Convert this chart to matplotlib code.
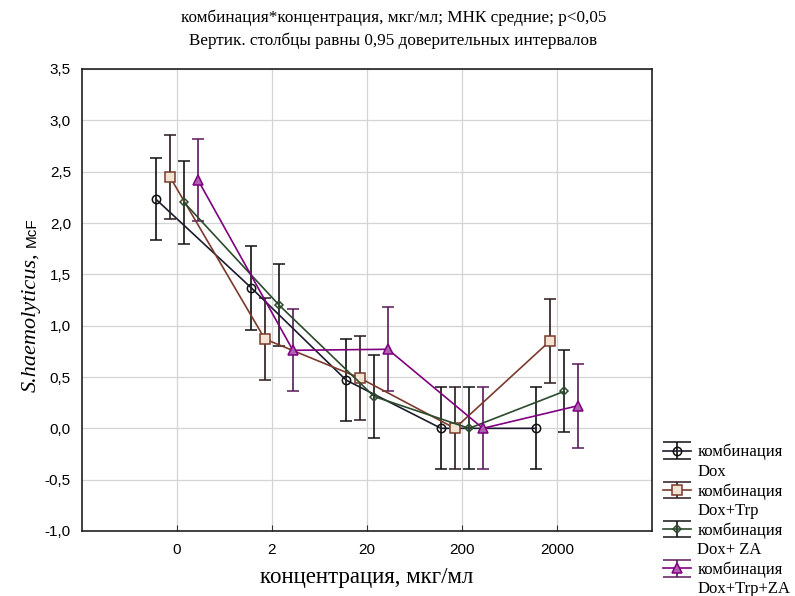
import numpy as np
import matplotlib
matplotlib.use('Agg')
from matplotlib import pyplot as plt

# categories on the x axis
conc_labels = ['0', '2', '20', '200', '2000']

# LS means per combination
dox = [2.23, 1.37, 0.47, 0.0, 0.0]
dox_trp = [2.45, 0.87, 0.49, 0.0, 0.85]
dox_za = [2.20, 1.20, 0.31, 0.0, 0.36]
dox_trp_za = [2.42, 0.76, 0.77, 0.0, 0.22]

# half-width of the 0.95 confidence intervals
ci_dox = [0.40, 0.41, 0.40, 0.40, 0.40]
ci_dox_trp = [0.41, 0.40, 0.41, 0.40, 0.41]
ci_dox_za = [0.40, 0.40, 0.40, 0.40, 0.40]
ci_dox_trp_za = [0.40, 0.40, 0.41, 0.40, 0.41]

series_labels = [('комбинация', 'Dox'), ('комбинация', 'Dox+Trp'),
                 ('комбинация', 'Dox+ ZA'), ('комбинация', 'Dox+Trp+ZA')]

serif = 'Liberation Serif'
sans = 'Liberation Sans'

fig = plt.figure(figsize=(7.95, 5.96), dpi=100)
ax = fig.add_axes([82/795, 1 - 531/596, (652 - 82)/795, (531 - 69)/596])

x = np.arange(len(conc_labels))
shifts = [-0.22, -0.075, 0.075, 0.22]
styles = [
    dict(color='#1c1c30', marker='o', ms=6, mfc='none', mec='#101010', ecolor='#101010'),
    dict(color='#7a3a2c', marker='s', ms=6.5, mfc='#f3e3d3', mec='#7a3a2c', ecolor='#2a1a1a'),
    dict(color='#2c4a2c', marker='D', ms=4.5, mfc='none', mec='#2c4a2c', ecolor='#151515'),
    dict(color='#800080', marker='^', ms=7, mfc='#b060b0', mec='#800080', ecolor='#5a1a5a'),
]
data = [(dox, ci_dox), (dox_trp, ci_dox_trp), (dox_za, ci_dox_za), (dox_trp_za, ci_dox_trp_za)]

proxies = []
for (vals, ci), st, dx in zip(data, styles, shifts):
    ax.errorbar(x + dx, vals, yerr=ci, capsize=4, elinewidth=1.2, capthick=1.2,
                lw=1.2, mew=1.1, zorder=3, **st)
    # legend proxy with wider caps
    p = ax.errorbar([np.nan], [np.nan], yerr=[0.4], capsize=10, elinewidth=1.2,
                    capthick=1.2, lw=1.2, mew=1.1, **st)
    proxies.append(p)

ax.set_xlim(-1, 5)
ax.set_ylim(-1.0, 3.5)
ax.set_xticks(x)
ax.set_xticklabels(conc_labels, fontfamily=sans, fontsize=11)
yt = np.arange(-1.0, 3.51, 0.5)
ax.set_yticks(yt)
ax.set_yticklabels([('%.1f' % v).replace('.', ',') for v in yt], fontfamily=sans, fontsize=11)
ax.tick_params(axis='x', direction='in', length=4, pad=9, color='#333333')
ax.tick_params(axis='y', direction='in', length=0, pad=8)
ax.grid(True, color='#d4d4d4', lw=0.9)
ax.set_axisbelow(True)
for s in ax.spines.values():
    s.set_linewidth(1.2)
    s.set_color('#202020')

ax.set_xlabel('концентрация, мкг/мл', fontfamily=serif, fontsize=16.5, labelpad=7)

# y label: italic species name + McF
fig.canvas.draw()
r = fig.canvas.get_renderer()
t1 = fig.text(36/795, 1 - 392/596, 'S.haemolyticus,', rotation=90, rotation_mode='anchor',
              ha='left', va='baseline', fontfamily=serif, style='italic', fontsize=16)
bb = t1.get_window_extent(r)
fig.text(36/795, (bb.y1 + 5)/596, 'McF', rotation=90, rotation_mode='anchor',
         ha='left', va='baseline', fontfamily=sans, fontsize=11)

fig.text(0.495, 1 - 18/596, 'комбинация*концентрация, мкг/мл; МНК средние; p<0,05',
         ha='center', va='center', fontfamily=serif, fontsize=12.3)
fig.text(0.495, 1 - 41/596, 'Вертик. столбцы равны 0,95 доверительных интервалов',
         ha='center', va='center', fontfamily=serif, fontsize=12.3)

blank = plt.Line2D([], [], linestyle='none')
handles, labels = [], []
for p, (a, b) in zip(proxies, series_labels):
    handles += [p, blank]
    labels += [a, b]
leg = fig.legend(handles, labels, loc='upper left', bbox_to_anchor=(663/795, 1 - 444/596),
                 frameon=False, prop={'family': serif, 'size': 12}, handlelength=1.7,
                 handletextpad=0.35, labelspacing=0.2, borderpad=0, borderaxespad=0,
                 numpoints=1)

fig.savefig('out.png', dpi=100)
